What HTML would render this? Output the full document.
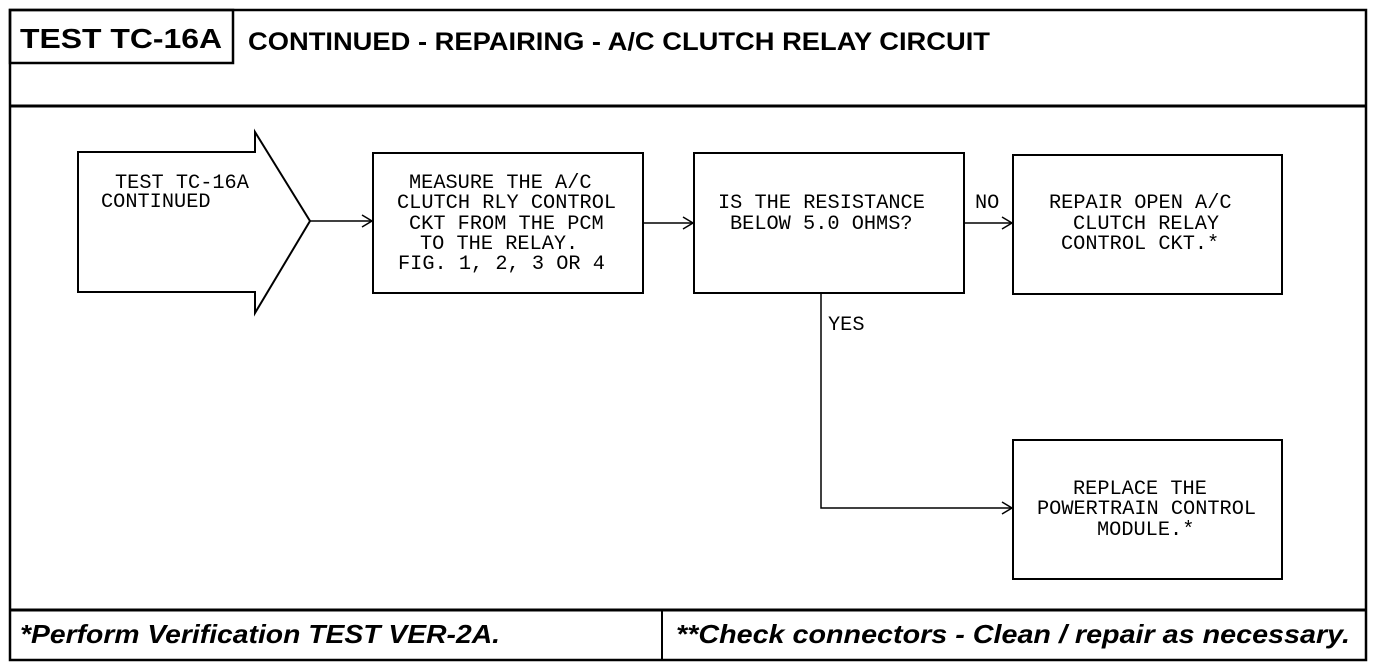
<!DOCTYPE html>
<html><head><meta charset="utf-8"><style>
html,body{margin:0;padding:0;background:#fff;}
svg{display:block;}
.m{font-family:"Liberation Mono",monospace;font-size:20.3px;fill:#000;}
.t{font-family:"Liberation Sans",sans-serif;font-weight:bold;fill:#000;}
</style></head><body>
<svg width="1376" height="670" viewBox="0 0 1376 670" xmlns="http://www.w3.org/2000/svg">
<g fill="none" stroke="#000">
<rect x="10" y="10" width="1356" height="650" stroke-width="2.5"/>
<rect x="10" y="10" width="223" height="53" stroke-width="2.5"/>
<line x1="10" y1="106" x2="1366" y2="106" stroke-width="3"/>
<line x1="10" y1="610" x2="1366" y2="610" stroke-width="3"/>
<line x1="662" y1="610" x2="662" y2="660" stroke-width="2"/>
<path d="M78,152 H255 V132 L310,221 L255,313 V292 H78 Z" stroke-width="2"/>
<rect x="373" y="153" width="270" height="140" stroke-width="2"/>
<rect x="694" y="153" width="270" height="140" stroke-width="2"/>
<rect x="1013" y="155" width="269" height="139" stroke-width="2"/>
<rect x="1013" y="440" width="269" height="139" stroke-width="2"/>
<g stroke-width="1.5">
<line x1="310" y1="221" x2="372" y2="221"/><path d="M362,215 L372,221 L362,227"/>
<line x1="643" y1="223" x2="693" y2="223"/><path d="M683,217 L693,223 L683,229"/>
<line x1="964" y1="223" x2="1012" y2="223"/><path d="M1002,217 L1012,223 L1002,229"/>
<path d="M821,293 V508 H1012"/><path d="M1002,502 L1012,508 L1002,514"/>
</g>
</g>
<text class="t" x="20" y="48" font-size="28" textLength="202" lengthAdjust="spacingAndGlyphs">TEST TC-16A</text>
<text class="t" x="248" y="50" font-size="25" textLength="742" lengthAdjust="spacingAndGlyphs">CONTINUED - REPAIRING - A/C CLUTCH RELAY CIRCUIT</text>
<text class="t" x="20" y="643" font-size="26" font-style="italic" textLength="480" lengthAdjust="spacingAndGlyphs">*Perform Verification TEST VER-2A.</text>
<text class="t" x="676" y="643" font-size="26" font-style="italic" textLength="674" lengthAdjust="spacingAndGlyphs">**Check connectors - Clean / repair as necessary.</text>
<g class="m">
<text x="115" y="188">TEST TC-16A</text>
<text x="101" y="207">CONTINUED</text>
<text x="409" y="188">MEASURE THE A/C</text>
<text x="397" y="208">CLUTCH RLY CONTROL</text>
<text x="409" y="229">CKT FROM THE PCM</text>
<text x="420" y="249">TO THE RELAY.</text>
<text x="398" y="269">FIG. 1, 2, 3 OR 4</text>
<text x="718" y="208">IS THE RESISTANCE</text>
<text x="730" y="229">BELOW 5.0 OHMS?</text>
<text x="975" y="208">NO</text>
<text x="1049" y="208">REPAIR OPEN A/C</text>
<text x="1073" y="229">CLUTCH RELAY</text>
<text x="1061" y="249">CONTROL CKT.*</text>
<text x="828" y="330">YES</text>
<text x="1073" y="494">REPLACE THE</text>
<text x="1037" y="514">POWERTRAIN CONTROL</text>
<text x="1097" y="535">MODULE.*</text>
</g>
</svg>
</body></html>
